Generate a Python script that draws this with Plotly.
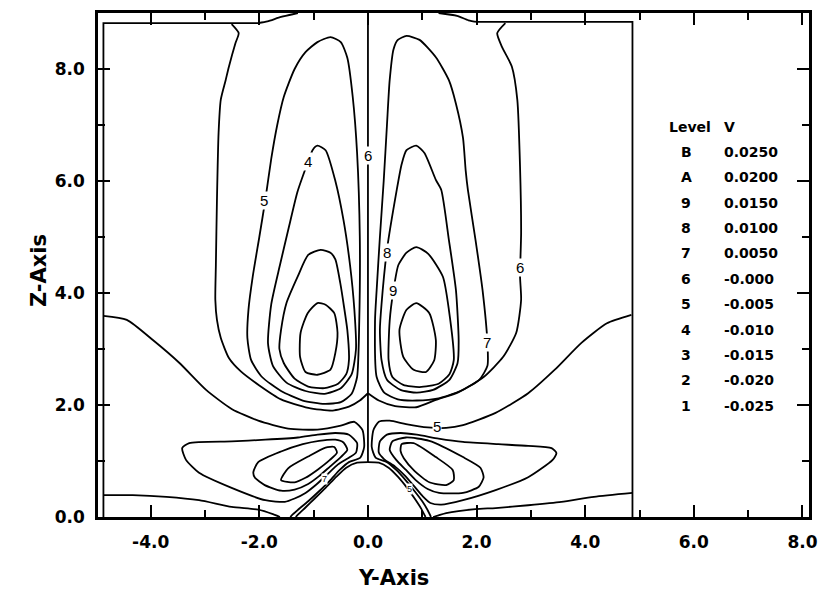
import plotly.graph_objects as go

# Legend table of contour levels
LEVEL_KEYS = ["B", "A", "9", "8", "7", "6", "5", "4", "3", "2", "1"]
LEVEL_VALUES = ["0.0250", "0.0200", "0.0150", "0.0100", "0.0050", "-0.000",
                "-0.005", "-0.010", "-0.015", "-0.020", "-0.025"]

X_TICKS = [-4.0, -2.0, 0.0, 2.0, 4.0, 6.0, 8.0]
Y_TICKS = [0.0, 2.0, 4.0, 6.0, 8.0]

# ---- traced contour paths (Y, Z) ----
# level 6 (zero) lines: straight boundary segments
c6_center_y = [0.0, 0.0]
c6_center_z = [9.0, 0.98]
c6_box_left_y = [-4.87, -4.87, -2.02]
c6_box_left_z = [0.0, 8.82, 8.82]
c6_box_right_y = [4.87, 4.87, 2.02]
c6_box_right_z = [0.0, 8.84, 8.84]
# level 6 curved lines
c6_top_left_y = [-2.02, -1.85, -1.6, -1.29]
c6_top_left_z = [8.82, 8.85, 8.93, 9.0]
c6_top_right_y = [2.02, 1.85, 1.64, 1.30]
c6_top_right_z = [8.84, 8.87, 8.95, 9.0]
c6_outer_left_y = [-2.51, -2.38, -2.44, -2.56, -2.62, -2.71, -2.75, -2.78, -2.80, -2.81, -2.78,
                   -2.71, -2.56, -2.34, -2.0, -1.6, -1.1, -0.65, -0.35, -0.15, 0.0]
c6_outer_left_z = [8.80, 8.64, 8.46, 8.04, 7.80, 7.45, 6.86, 5.66, 4.5, 3.88, 3.52,
                   3.2, 2.84, 2.6, 2.35, 2.1, 1.95, 1.9, 1.97, 2.08, 2.21]
c6_outer_right_y = [2.53, 2.38, 2.47, 2.65, 2.75, 2.80, 2.82, 2.80, 2.82, 2.73, 2.49,
                    2.13, 1.67, 1.25, 0.89, 0.5, 0.2, 0.0]
c6_outer_right_z = [8.82, 8.64, 8.39, 8.04, 7.45, 6.25, 5.07, 4.3, 3.88, 3.29, 2.86,
                    2.5, 2.23, 2.09, 1.96, 1.98, 2.08, 2.21]
c6_wall_left_y = [-4.87, -4.33, -3.71, -3.11, -2.51, -2.02, -1.75, -1.62]
c6_wall_left_z = [0.39, 0.39, 0.36, 0.30, 0.18, 0.13, 0.05, 0.0]
c6_wall_right_y = [4.87, 4.16, 3.56, 2.95, 2.35, 1.98, 1.44, 1.3, 1.2]
c6_wall_right_z = [0.43, 0.36, 0.27, 0.21, 0.16, 0.14, 0.07, 0.03, 0.0]
c6_low_left_y = [0.0, -0.2, -0.4, -0.58, -0.78, -0.98, -1.15, -1.28, -1.33]
c6_low_left_z = [0.98, 0.97, 0.88, 0.72, 0.52, 0.33, 0.17, 0.05, 0.0]
c6_low_right_y = [0.0, 0.2, 0.38, 0.55, 0.72, 0.86, 0.98, 1.06]
c6_low_right_z = [0.98, 0.97, 0.88, 0.72, 0.52, 0.33, 0.15, 0.0]

# upper-left lobe (negative levels)
c5_ul_y = [-0.69, -0.93, -1.15, -1.35, -1.55, -1.67, -1.78, -1.89, -2.0, -2.12, -2.2, -2.22,
           -2.15, -1.95, -1.6, -1.2, -0.8, -0.5, -0.3, -0.2, -0.16, -0.15, -0.2, -0.28,
           -0.38, -0.5, -0.69]
c5_ul_z = [8.57, 8.48, 8.30, 8.0, 7.5, 7.0, 6.4, 5.66, 5.0, 4.3, 3.7, 3.2,
           2.8, 2.5, 2.25, 2.08, 2.02, 2.05, 2.2, 2.5, 3.5, 5.0, 6.5, 7.5,
           8.2, 8.48, 8.57]
c4_ul_y = [-0.93, -0.78, -0.6, -0.45, -0.33, -0.25, -0.22, -0.3, -0.5, -0.8, -1.15, -1.5,
           -1.75, -1.84, -1.78, -1.62, -1.45, -1.3, -1.12, -1.02, -0.93]
c4_ul_z = [6.63, 6.55, 6.0, 5.3, 4.5, 3.7, 3.0, 2.55, 2.3, 2.2, 2.25, 2.4,
           2.7, 3.1, 3.8, 4.5, 5.2, 5.8, 6.3, 6.55, 6.63]
c3_ul_y = [-0.87, -0.69, -0.6, -0.51, -0.44, -0.38, -0.35, -0.4, -0.55, -0.8, -1.1, -1.35,
           -1.55, -1.63, -1.6, -1.5, -1.29, -1.1, -0.87]
c3_ul_z = [4.77, 4.72, 4.6, 4.18, 3.75, 3.34, 2.8, 2.55, 2.38, 2.3, 2.33, 2.47,
           2.75, 3.0, 3.34, 3.82, 4.3, 4.68, 4.77]
c2_ul_y = [-0.93, -1.11, -1.24, -1.25, -1.15, -0.93, -0.69, -0.6, -0.56, -0.62, -0.78, -0.93]
c2_ul_z = [3.82, 3.64, 3.29, 2.86, 2.59, 2.54, 2.63, 2.93, 3.29, 3.64, 3.79, 3.82]

# upper-right lobe (positive levels)
c7_ur_y = [0.71, 0.95, 1.25, 1.49, 1.62, 1.75, 1.80, 1.84, 1.98, 2.11, 2.2, 2.2, 2.05,
           1.7, 1.3, 0.9, 0.55, 0.3, 0.16, 0.13, 0.16, 0.22, 0.29, 0.35, 0.4, 0.47, 0.55, 0.71]
c7_ur_z = [8.59, 8.52, 8.21, 7.8, 7.38, 6.77, 6.18, 5.84, 4.95, 4.05, 3.1, 2.7, 2.45,
           2.25, 2.12, 2.08, 2.1, 2.22, 2.5, 3.5, 4.05, 5.0, 6.0, 7.0, 7.8, 8.35, 8.52, 8.59]
c8_ur_y = [0.89, 1.04, 1.25, 1.35, 1.49, 1.62, 1.67, 1.65, 1.5, 1.2, 0.9, 0.6, 0.35,
           0.25, 0.22, 0.25, 0.35, 0.53, 0.62, 0.71, 0.89]
c8_ur_z = [6.63, 6.5, 6.02, 5.84, 4.95, 4.05, 3.16, 2.75, 2.45, 2.27, 2.22, 2.27, 2.45,
           2.8, 3.34, 3.8, 4.77, 5.84, 6.3, 6.55, 6.63]
c9_ur_y = [0.89, 1.11, 1.38, 1.49, 1.58, 1.5, 1.3, 0.95, 0.65, 0.45, 0.38, 0.4, 0.47,
           0.56, 0.71, 0.89]
c9_ur_z = [4.82, 4.7, 4.29, 3.7, 2.8, 2.55, 2.38, 2.32, 2.36, 2.5, 2.8, 3.5, 4.05,
           4.5, 4.72, 4.82]
cA_ur_y = [0.89, 1.13, 1.25, 1.22, 1.07, 0.84, 0.65, 0.58, 0.71, 0.89]
cA_ur_z = [3.82, 3.64, 3.16, 2.80, 2.59, 2.63, 2.86, 3.34, 3.70, 3.82]

# lower-left lobe (positive levels)
c7_ll_y = [-4.87, -4.44, -3.96, -3.47, -2.98, -2.51, -2.02, -1.47, -0.93, -0.5, -0.25,
           -0.1, -0.07, -0.14, -0.35, -0.52, -0.7, -0.9, -1.08, -1.25, -1.38, -1.43]
c7_ll_z = [3.59, 3.52, 3.16, 2.75, 2.27, 1.93, 1.72, 1.58, 1.56, 1.63, 1.7,
           1.55, 1.25, 1.06, 0.98, 0.84, 0.65, 0.46, 0.30, 0.16, 0.05, 0.0]
c8_ll_y = [-3.42, -3.29, -2.51, -1.89, -1.29, -0.93, -0.6, -0.35, -0.2, -0.22, -0.35,
           -0.55, -0.75, -0.95, -1.15, -1.35, -1.53, -1.89, -2.51, -3.11, -3.35, -3.42]
c8_ll_z = [1.23, 1.32, 1.35, 1.38, 1.42, 1.47, 1.5, 1.47, 1.32, 1.15, 1.06,
           0.94, 0.76, 0.58, 0.43, 0.33, 0.27, 0.30, 0.52, 0.79, 1.02, 1.23]
c9_ll_y = [-2.11, -2.02, -1.6, -1.2, -0.9, -0.6, -0.45, -0.38, -0.5, -0.7, -0.9, -1.1,
           -1.35, -1.6, -1.9, -2.08, -2.11]
c9_ll_z = [0.80, 0.98, 1.17, 1.3, 1.36, 1.38, 1.33, 1.2, 1.07, 0.9, 0.73, 0.59,
           0.49, 0.47, 0.57, 0.70, 0.80]
cA_ll_y = [-1.6, -1.47, -1.1, -0.78, -0.62, -0.57, -0.7, -0.92, -1.15, -1.35, -1.6]
cA_ll_z = [0.66, 0.87, 1.08, 1.24, 1.25, 1.15, 1.02, 0.85, 0.70, 0.62, 0.66]

# lower-right lobe (negative levels)
c5_lr_y = [4.85, 4.4, 3.93, 3.44, 2.95, 2.35, 1.75, 1.44, 1.1, 0.7, 0.4, 0.2, 0.1,
           0.07, 0.14, 0.35, 0.52, 0.7, 0.86, 1.0, 1.1, 1.16]
c5_lr_z = [3.61, 3.46, 3.11, 2.63, 2.21, 1.86, 1.64, 1.59, 1.6, 1.66, 1.72, 1.7, 1.55,
           1.25, 1.06, 0.98, 0.84, 0.65, 0.46, 0.28, 0.12, 0.0]
c4_lr_y = [1.75, 1.35, 1.15, 1.0, 0.85, 0.68, 0.5, 0.3, 0.2, 0.22, 0.35, 0.6, 0.9,
           1.3, 1.75, 2.4, 2.95, 3.38, 3.47, 3.4, 2.95, 2.35, 1.75]
c4_lr_z = [0.30, 0.22, 0.25, 0.38, 0.55, 0.74, 0.90, 1.03, 1.15, 1.35, 1.47, 1.5, 1.47,
           1.4, 1.34, 1.3, 1.27, 1.23, 1.14, 1.02, 0.71, 0.48, 0.30]
c3_lr_y = [2.13, 2.07, 1.75, 1.13, 0.7, 0.45, 0.4, 0.52, 0.7, 0.89, 1.1, 1.31, 1.75,
           2.04, 2.13]
c3_lr_z = [0.71, 0.88, 1.07, 1.36, 1.42, 1.35, 1.2, 1.02, 0.84, 0.65, 0.50, 0.43, 0.43,
           0.54, 0.71]
c2_lr_y = [0.62, 0.84, 1.25, 1.56, 1.58, 1.44, 1.13, 0.86, 0.66, 0.6, 0.62]
c2_lr_z = [1.3, 1.32, 1.07, 0.84, 0.66, 0.57, 0.62, 0.82, 1.05, 1.18, 1.3]

BOUNDARY_PATHS = [
    (c6_center_y, c6_center_z), (c6_box_left_y, c6_box_left_z),
    (c6_box_right_y, c6_box_right_z),
]
CONTOUR_PATHS = [
    (c6_top_left_y, c6_top_left_z), (c6_top_right_y, c6_top_right_z),
    (c6_outer_left_y, c6_outer_left_z), (c6_outer_right_y, c6_outer_right_z),
    (c6_wall_left_y, c6_wall_left_z), (c6_wall_right_y, c6_wall_right_z),
    (c6_low_left_y, c6_low_left_z), (c6_low_right_y, c6_low_right_z),
    (c5_ul_y, c5_ul_z), (c4_ul_y, c4_ul_z), (c3_ul_y, c3_ul_z), (c2_ul_y, c2_ul_z),
    (c7_ur_y, c7_ur_z), (c8_ur_y, c8_ur_z), (c9_ur_y, c9_ur_z), (cA_ur_y, cA_ur_z),
    (c7_ll_y, c7_ll_z), (c8_ll_y, c8_ll_z), (c9_ll_y, c9_ll_z), (cA_ll_y, cA_ll_z),
    (c5_lr_y, c5_lr_z), (c4_lr_y, c4_lr_z), (c3_lr_y, c3_lr_z), (c2_lr_y, c2_lr_z),
]

# in-line contour labels
label_text = ["6", "4", "5", "8", "9", "6", "7", "5"]
label_y = [0.0, -1.11, -1.91, 0.35, 0.47, 2.80, 2.20, 1.27]
label_z = [6.46, 6.34, 5.66, 4.73, 4.05, 4.46, 3.11, 1.61]
# crowded labels in the steep near-wall band
small_label_text = ["7", "5"]
small_label_y = [-0.8, 0.76]
small_label_z = [0.68, 0.5]

fig = go.Figure()
for ys, zs in BOUNDARY_PATHS:
    fig.add_trace(go.Scatter(x=ys, y=zs, mode="lines", line=dict(color="black", width=1.8),
                             hoverinfo="skip", showlegend=False))
for ys, zs in CONTOUR_PATHS:
    fig.add_trace(go.Scatter(x=ys, y=zs, mode="lines",
                             line=dict(color="black", width=1.8, shape="spline", smoothing=0.6),
                             hoverinfo="skip", showlegend=False))

annotations = []
LABEL_FONT = dict(family="Liberation Sans, Arial", size=15, color="black")
for t, yy, zz in zip(label_text, label_y, label_z):
    annotations.append(dict(x=yy, y=zz, xref="x", yref="y", text=t, showarrow=False,
                            font=LABEL_FONT, bgcolor="white", borderpad=0))
for t, yy, zz in zip(small_label_text, small_label_y, small_label_z):
    annotations.append(dict(x=yy, y=zz, xref="x", yref="y", text=t, showarrow=False,
                            font=dict(family="Liberation Sans, Arial", size=9, color="black"),
                            bgcolor="white", borderpad=0))

# level table at the right
TABLE_FONT = dict(family="DejaVu Sans", size=14, color="black", weight="bold")
annotations.append(dict(x=5.50, y=6.96, xref="x", yref="y", text="Level", showarrow=False,
                        xanchor="left", font=TABLE_FONT))
annotations.append(dict(x=6.52, y=6.96, xref="x", yref="y", text="V", showarrow=False,
                        xanchor="left", font=TABLE_FONT))
for i, (k, v) in enumerate(zip(LEVEL_KEYS, LEVEL_VALUES)):
    zrow = 6.52 - i * 0.4536
    annotations.append(dict(x=5.86, y=zrow, xref="x", yref="y", text=k, showarrow=False,
                            xanchor="center", font=TABLE_FONT))
    annotations.append(dict(x=6.51, y=zrow, xref="x", yref="y", text=v, showarrow=False,
                            xanchor="left", font=TABLE_FONT))

# axis titles
TITLE_FONT = dict(family="DejaVu Sans", size=21, color="black", weight="bold")
annotations.append(dict(x=0.47, y=-0.121, xref="x", yref="paper", text="Y-Axis", showarrow=False,
                        xanchor="center", yanchor="middle", font=TITLE_FONT))
annotations.append(dict(x=-0.083, y=0.49, xref="paper", yref="paper", text="Z-Axis",
                        showarrow=False, textangle=-90, xanchor="center", yanchor="middle",
                        font=TITLE_FONT))

TICK_FONT = dict(family="DejaVu Sans", size=17, color="black", weight="bold")
axis_common = dict(showgrid=False, zeroline=False, showline=True, linecolor="black",
                   linewidth=2.5, mirror="allticks", ticks="inside", ticklen=12,
                   tickwidth=2, tickcolor="black", tickfont=TICK_FONT,
                   minor=dict(ticks="inside", ticklen=7, tickwidth=1.5, tickcolor="black", dtick=1))

fig.update_layout(
    width=827, height=601,
    margin=dict(l=98, r=9, t=13, b=84),
    paper_bgcolor="white", plot_bgcolor="white",
    xaxis=dict(range=[-4.97, 8.12], tickvals=X_TICKS,
               ticktext=[f"{v:.1f}" for v in X_TICKS], ticklabelstandoff=8, **axis_common),
    yaxis=dict(range=[0.0, 9.0], tickvals=Y_TICKS,
               ticktext=[f"{v:.1f}" for v in Y_TICKS], ticklabelstandoff=7, **axis_common),
    annotations=annotations,
)

fig.write_html("out.html")
